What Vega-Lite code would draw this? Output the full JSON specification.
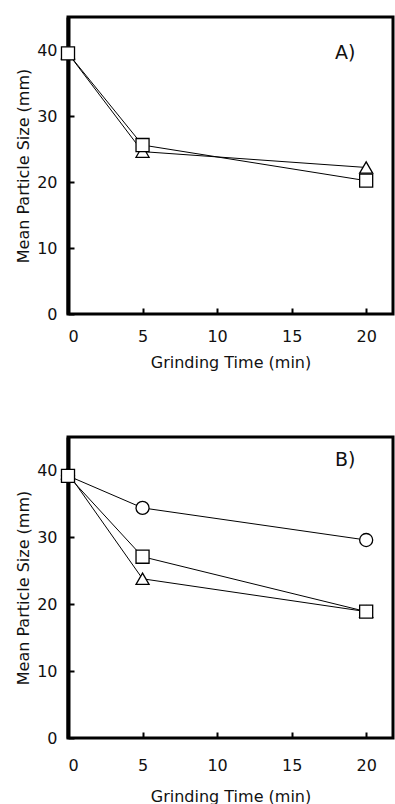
{
  "$schema": "https://vega.github.io/schema/vega-lite/v6.json",
  "padding": {"left": 14, "top": 15, "right": 0, "bottom": 0},
  "background": "white",
  "config": {
    "font": "DejaVu Sans",
    "view": {"stroke": "black", "strokeWidth": 3},
    "axis": {
      "domain": false,
      "grid": false,
      "labelFont": "DejaVu Sans",
      "labelFontSize": 16,
      "labelColor": "#111",
      "titleFont": "DejaVu Sans",
      "titleFontSize": 16,
      "titleFontWeight": "normal",
      "titleColor": "#111",
      "tickColor": "black",
      "tickWidth": 2,
      "tickSize": -6
    },
    "axisY": {"domain": true, "domainColor": "black", "domainWidth": 4}
  },
  "datasets": {
    "pts": [
      {"panel": "A", "series": "triangle", "t": 0, "size": 39.5},
      {"panel": "A", "series": "triangle", "t": 5, "size": 24.6},
      {"panel": "A", "series": "triangle", "t": 20, "size": 22.2},
      {"panel": "A", "series": "square", "t": 0, "size": 39.5},
      {"panel": "A", "series": "square", "t": 5, "size": 25.6},
      {"panel": "A", "series": "square", "t": 20, "size": 20.2},
      {"panel": "B", "series": "triangle", "t": 0, "size": 39.6},
      {"panel": "B", "series": "triangle", "t": 5, "size": 23.8},
      {"panel": "B", "series": "triangle", "t": 20, "size": 18.9},
      {"panel": "B", "series": "circle", "t": 0, "size": 39.2},
      {"panel": "B", "series": "circle", "t": 5, "size": 34.4},
      {"panel": "B", "series": "circle", "t": 20, "size": 29.6},
      {"panel": "B", "series": "square", "t": 0, "size": 39.2},
      {"panel": "B", "series": "square", "t": 5, "size": 27.1},
      {"panel": "B", "series": "square", "t": 20, "size": 18.9}
    ],
    "labels": [
      {"panel": "A", "t": 18.6, "size": 39.6, "label": "A)"},
      {"panel": "B", "t": 18.6, "size": 41.6, "label": "B)"}
    ]
  },
  "vconcat": [
    {
      "width": 325,
      "height": 297,
      "layer": [
        {
          "data": {"name": "pts"},
          "transform": [{"filter": "datum.panel === 'A'"}],
          "mark": {"type": "line", "color": "black", "strokeWidth": 1},
          "encoding": {
            "x": {"field": "t", "type": "quantitative", "scale": {"domain": [0, 21.8], "nice": false}, "axis": {"values": [0, 5, 10, 15, 20], "title": "Grinding Time (min)", "labelPadding": 20, "titlePadding": 10}},
            "y": {"field": "size", "type": "quantitative", "scale": {"domain": [0, 45], "nice": false}, "axis": {"values": [0, 10, 20, 30, 40], "title": "Mean Particle Size (mm)", "labelPadding": 17, "titlePadding": 5}},
            "detail": {"field": "series"}
          }
        },
        {
          "data": {"name": "pts"},
          "transform": [{"filter": "datum.panel === 'A'"}],
          "mark": {"type": "point", "filled": true, "fill": "white", "stroke": "black", "strokeWidth": 1.3, "size": 170, "opacity": 1},
          "encoding": {
            "x": {"field": "t", "type": "quantitative"},
            "y": {"field": "size", "type": "quantitative"},
            "shape": {"field": "series", "type": "nominal", "scale": {"domain": ["circle", "square", "triangle"], "range": ["circle", "square", "triangle-up"]}, "legend": null}
          }
        },
        {
          "data": {"name": "labels"},
          "transform": [{"filter": "datum.panel === 'A'"}],
          "mark": {"type": "text", "font": "DejaVu Sans", "fontSize": 19, "color": "#111"},
          "encoding": {
            "x": {"field": "t", "type": "quantitative"},
            "y": {"field": "size", "type": "quantitative"},
            "text": {"field": "label"}
          }
        }
      ]
    },
    {
      "width": 325,
      "height": 301,
      "layer": [
        {
          "data": {"name": "pts"},
          "transform": [{"filter": "datum.panel === 'B'"}],
          "mark": {"type": "line", "color": "black", "strokeWidth": 1},
          "encoding": {
            "x": {"field": "t", "type": "quantitative", "scale": {"domain": [0, 21.8], "nice": false}, "axis": {"values": [0, 5, 10, 15, 20], "title": "Grinding Time (min)", "labelPadding": 25, "titlePadding": 15}},
            "y": {"field": "size", "type": "quantitative", "scale": {"domain": [0, 45], "nice": false}, "axis": {"values": [0, 10, 20, 30, 40], "title": "Mean Particle Size (mm)", "labelPadding": 17, "titlePadding": 5}},
            "detail": {"field": "series"}
          }
        },
        {
          "data": {"name": "pts"},
          "transform": [{"filter": "datum.panel === 'B'"}],
          "mark": {"type": "point", "filled": true, "fill": "white", "stroke": "black", "strokeWidth": 1.3, "size": 170, "opacity": 1},
          "encoding": {
            "x": {"field": "t", "type": "quantitative"},
            "y": {"field": "size", "type": "quantitative"},
            "shape": {"field": "series", "type": "nominal", "scale": {"domain": ["circle", "square", "triangle"], "range": ["circle", "square", "triangle-up"]}, "legend": null}
          }
        },
        {
          "data": {"name": "labels"},
          "transform": [{"filter": "datum.panel === 'B'"}],
          "mark": {"type": "text", "font": "DejaVu Sans", "fontSize": 19, "color": "#111"},
          "encoding": {
            "x": {"field": "t", "type": "quantitative"},
            "y": {"field": "size", "type": "quantitative"},
            "text": {"field": "label"}
          }
        }
      ]
    }
  ],
  "spacing": 63
}
